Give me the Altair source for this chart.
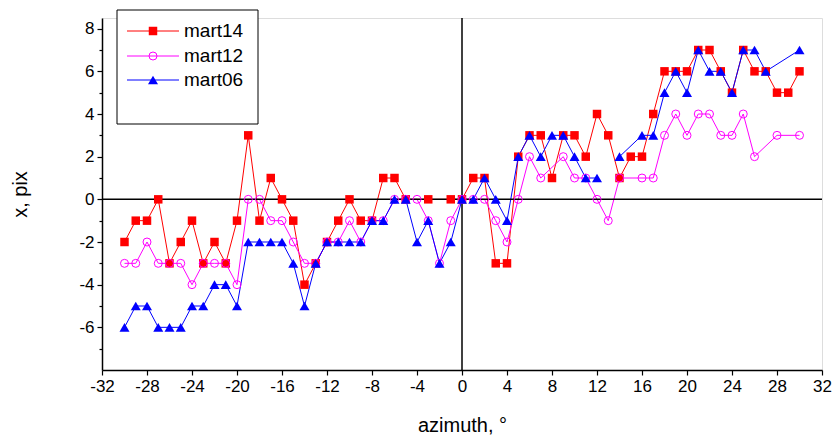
import altair as alt
import pandas as pd

# ---------------- data ----------------
azimuth = list(range(-30, 31))

mart14 = [-2, -1, -1, 0, -3, -2, -1, -3, -2, -3,
          -1, 3, -1, 1, 0, -1, -4, -3, -2, -1,
          0, -1, -1, 1, 1, 0, None, 0, None, 0,
          0, 1, 1, -3, -3, 2, 3, 3, 1, 3,
          3, 2, 4, 3, 1, 2, 2, 4, 6, 6,
          6, 7, 7, 6, 5, 7, 6, 6, 5, 5, 6]

mart12 = [-3, -3, -2, -3, -3, -3, -4, -3, -3, -3,
          -4, 0, 0, -1, -1, -2, -3, -3, -2, -2,
          -1, -2, -1, -1, 0, 0, 0, -1, -3, -1,
          0, 0, 0, -1, -2, 0, 2, 1, None, 2,
          1, 1, 0, -1, 1, None, 1, 1, 3, 4,
          3, 4, 4, 3, 3, 4, 2, None, 3, None, 3]

mart06 = [-6, -5, -5, -6, -6, -6, -5, -5, -4, -4,
          -5, -2, -2, -2, -2, -3, -5, -3, -2, -2,
          -2, -2, -1, -1, 0, 0, -2, -1, -3, -2,
          0, 0, 1, 0, -1, 2, 3, 2, 3, 3,
          2, 1, 1, None, 2, None, 3, 3, 5, 6,
          5, 7, 6, 6, 5, 7, 7, 6, None, None, 7]

# the mart06 curve is interrupted between these azimuths
mart06_gap = (12, 14)

series_names = ["mart14", "mart12", "mart06"]
series_values = [mart14, mart12, mart06]
colors = ["#FF0000", "#FF00FF", "#0000FF"]

x_ticks = list(range(-32, 33, 4))
y_ticks = list(range(-6, 9, 2))
y_minor = list(range(-7, 8, 2))

# ---------------- table ----------------
rows = []
for name, vals in zip(series_names, series_values):
    for a, v in zip(azimuth, vals):
        if v is None:
            continue
        seg = 0
        if name == "mart06" and a >= mart06_gap[1]:
            seg = 1
        rows.append({"az": a, "val": v, "series": name, "seg": seg})
df = pd.DataFrame(rows)

FONT = "Liberation Sans"
LABEL_EXPR = "datum.value < 0 ? '-' + abs(datum.value) : '' + datum.value"
xscale = alt.Scale(domain=[-32, 32], nice=False, zero=False)
yscale = alt.Scale(domain=[-8, 8.5], nice=False, zero=False)

x_axis = alt.Axis(values=x_ticks, labelExpr=LABEL_EXPR, orient="bottom", grid=False,
                  title="azimuth, °", tickSize=5, tickWidth=1.2, tickColor="black",
                  domainColor="black", domainWidth=1.5, labelColor="black",
                  labelFont=FONT, labelFontSize=17, labelPadding=3,
                  labelFlush=False, labelOverlap=False,
                  titleFont=FONT, titleFontSize=20, titleFontWeight="normal",
                  titleColor="black", titleX=360, titleY=61,
                  titleAlign="center", titleBaseline="alphabetic")
y_axis = alt.Axis(values=y_ticks, labelExpr=LABEL_EXPR, orient="left", grid=False,
                  title="x, pix", tickSize=5, tickWidth=1.2, tickColor="black",
                  domainColor="black", domainWidth=1.5, labelColor="black",
                  labelFont=FONT, labelFontSize=17, labelPadding=3,
                  labelFlush=False, labelOverlap=False,
                  titleFont=FONT, titleFontSize=20, titleFontWeight="normal",
                  titleColor="black", titleAngle=-90, titleX=-82, titleY=176,
                  titleAlign="center", titleBaseline="middle")
y_axis_minor = alt.Axis(values=y_minor, orient="left", grid=False, labels=False,
                        domain=False, title=None, tickSize=3, tickWidth=1.2,
                        tickColor="black")

layers = []

# lines
for i, (name, c) in enumerate(zip(series_names, colors)):
    sub = df[df.series == name]
    if i == 0:
        xa, ya = x_axis, y_axis
    elif i == 1:
        xa, ya = None, y_axis_minor
    else:
        xa, ya = None, None
    layers.append(
        alt.Chart(sub).mark_line(color=c, strokeWidth=1).encode(
            x=alt.X("az:Q", scale=xscale, axis=xa),
            y=alt.Y("val:Q", scale=yscale, axis=ya),
            detail="seg:N",
            order="az:Q",
        )
    )

# zero lines
layers.append(alt.Chart(pd.DataFrame({"v": [0]})).mark_rule(color="black", strokeWidth=1.5).encode(
    y=alt.Y("v:Q", scale=yscale, axis=None)))
layers.append(alt.Chart(pd.DataFrame({"v": [0]})).mark_rule(color="black", strokeWidth=1.5).encode(
    x=alt.X("v:Q", scale=xscale, axis=None)))

marker_styles = [
    dict(shape="square", filled=True, size=72, strokeWidth=1),
    dict(shape="circle", filled=False, size=64, strokeWidth=1),
    dict(shape="triangle-up", filled=True, size=100, strokeWidth=1),
]

for name, c, st in zip(series_names, colors, marker_styles):
    sub = df[df.series == name]
    layers.append(
        alt.Chart(sub).mark_point(color=c, opacity=1, **st).encode(
            x=alt.X("az:Q", scale=xscale, axis=None),
            y=alt.Y("val:Q", scale=yscale, axis=None),
        )
    )

# legend box
one = pd.DataFrame({"k": [0]})
layers.append(alt.Chart(one).mark_rect(fill="white", stroke="black", strokeWidth=1).encode(
    x=alt.value(15), x2=alt.value(156), y=alt.value(-8), y2=alt.value(106)))
legend_y = [13, 38, 62]
for name, c, st, ly in zip(series_names, colors, marker_styles, legend_y):
    layers.append(alt.Chart(one).mark_rule(color=c, strokeWidth=1).encode(
        x=alt.value(25), x2=alt.value(77), y=alt.value(ly)))
    layers.append(alt.Chart(one).mark_point(color=c, opacity=1, **st).encode(
        x=alt.value(51), y=alt.value(ly)))
    layers.append(alt.Chart(one).mark_text(align="left", baseline="middle", font=FONT,
                                           fontSize=19, color="black").encode(
        x=alt.value(82), y=alt.value(ly), text=alt.value(name)))

chart = alt.layer(*layers).resolve_axis(x="independent", y="independent").properties(
    width=720, height=352,
    autosize=alt.AutoSizeParams(type="none"),
    padding={"left": 102, "top": 18, "right": 13, "bottom": 70},
).configure_view(stroke=None).configure(background="white")

chart.save("out.html", embed_options={"renderer": "svg", "actions": False})
